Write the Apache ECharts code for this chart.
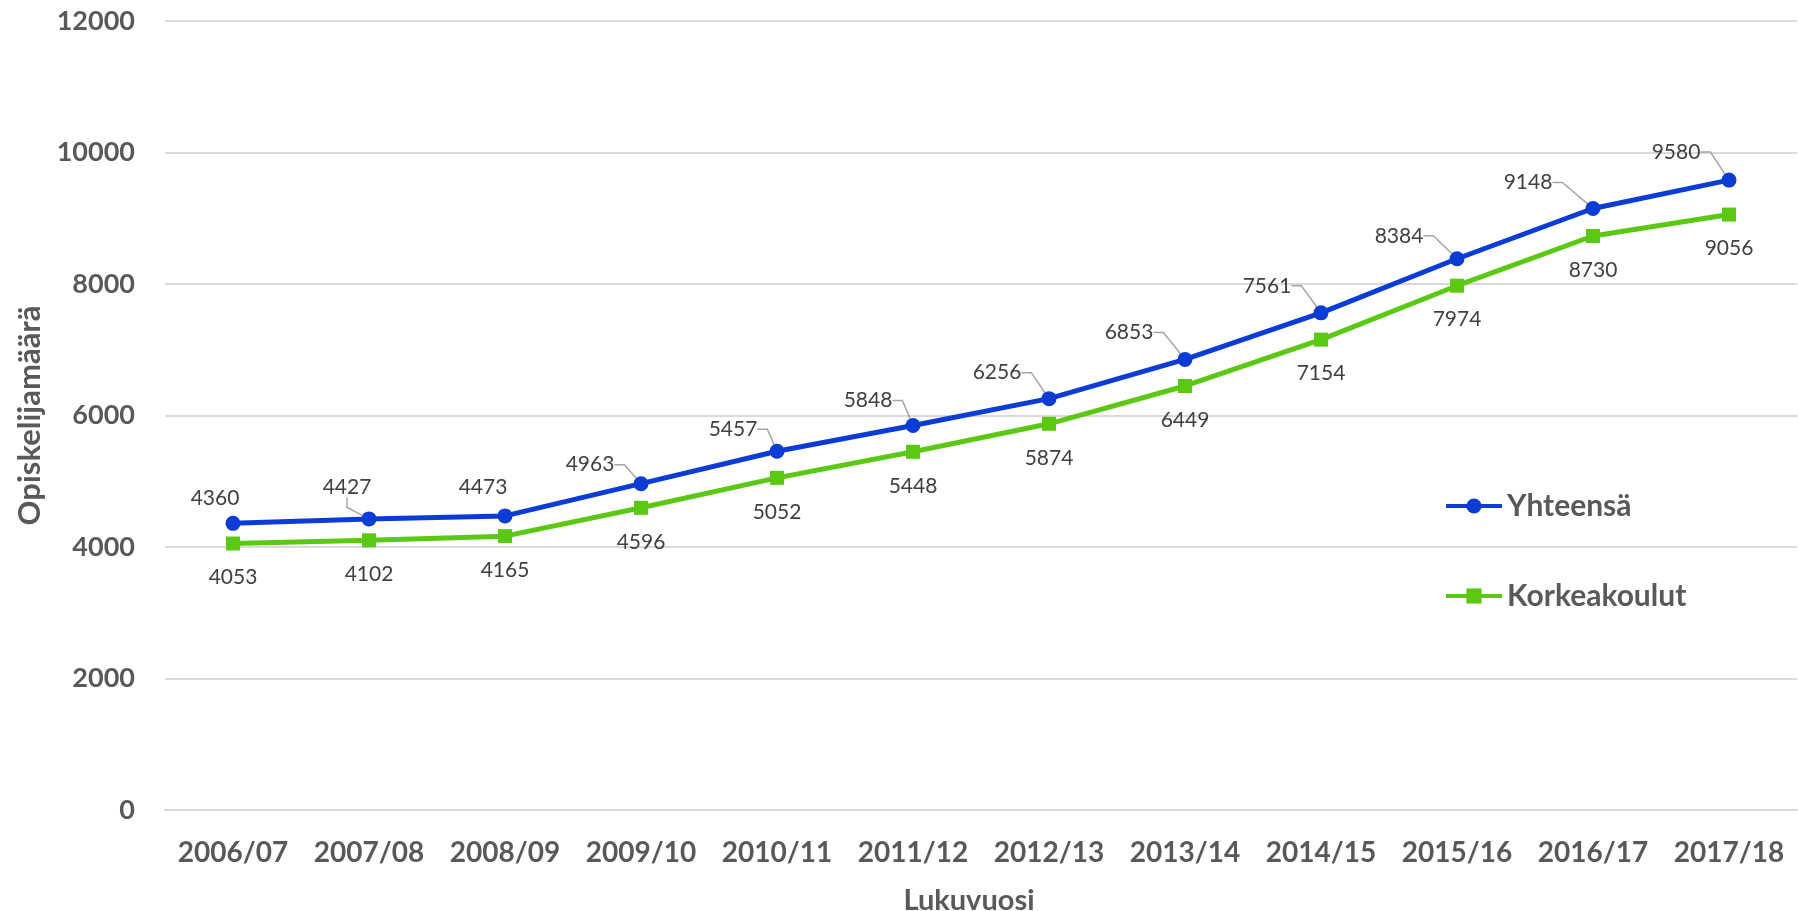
<!DOCTYPE html>
<html>
<head>
<meta charset="utf-8">
<script src="https://cdn.jsdelivr.net/npm/echarts@6/dist/echarts.min.js"></script>
<style>
html,body{margin:0;padding:0;background:#fff;}
#chart{width:1798px;height:911px;}
</style>
</head>
<body>
<div id="chart"></div>
<script>
// ---- data ----
const categories = ['2006/07','2007/08','2008/09','2009/10','2010/11','2011/12','2012/13','2013/14','2014/15','2015/16','2016/17','2017/18'];
const seriesNames = ['Yhteensä','Korkeakoulut'];
const yhteensa = [4360,4427,4473,4963,5457,5848,6256,6853,7561,8384,9148,9580];
const korkeakoulut = [4053,4102,4165,4596,5052,5448,5874,6449,7154,7974,8730,9056];
const yAxisMin = 0, yAxisMax = 12000, yAxisStep = 2000;
const xAxisTitle = 'Lukuvuosi';
const yAxisTitle = 'Opiskelijamäärä';

// ---- label layout (styling, not data) ----
const blueLabelOffsets = [[-18,-25],[-22,-32],[-22,-29],[-51,-19],[-44,-22],[-45,-25],[-52,-26],[-56,-27],[-54,-27],[-58,-23],[-65,-26],[-53,-28]];
const blueLeader = [false,true,false,true,true,true,true,true,true,true,true,true];
const greenLabelOffset = [0, 34];

const FONT = 'Lato';
const GRAY = '#595959';
const BLUE = '#0B3DD6';
const GREEN = '#5BC813';

const chart = echarts.init(document.getElementById('chart'), null, {renderer:'canvas'});

const blueData = yhteensa.map((v,i)=>({value:v, labelLine:{show: blueLeader[i]}}));

const option = {
  animation: false,
  backgroundColor: '#ffffff',
  grid: {left:165, right:1, top:21, bottom:101, containLabel:false, outerBoundsMode:'none'},
  legend: {
    orient: 'vertical',
    left: 1444,
    top: 491,
    padding: 0,
    itemGap: 60,
    itemWidth: 56,
    itemHeight: 19,
    lineStyle: {width: 4},
    textStyle: {fontFamily: FONT, fontWeight: 'bold', fontSize: 30, color: GRAY},
    data: seriesNames
  },
  xAxis: {
    type: 'category',
    data: categories,
    boundaryGap: true,
    axisLine: {show:true, lineStyle:{color:'#d9d9d9', width:2}},
    axisTick: {show:false},
    axisLabel: {fontFamily: FONT, fontWeight:'bold', fontSize:28, color: GRAY, margin: 29, interval: 0},
    name: xAxisTitle,
    nameLocation: 'middle',
    nameGap: 76,
    nameTextStyle: {fontFamily: FONT, fontWeight:'bold', fontSize:29, color: GRAY, padding:[0,24,0,0]}
  },
  yAxis: {
    type: 'value',
    min: yAxisMin, max: yAxisMax, interval: yAxisStep,
    axisLine: {show:false},
    axisTick: {show:false},
    splitLine: {show:true, lineStyle:{color:'#d9d9d9', width:2}},
    axisLabel: {fontFamily: FONT, fontWeight:'bold', fontSize:27, color: GRAY, margin: 30,
      formatter: function(v){ return String(v); }},
    name: yAxisTitle,
    nameLocation: 'middle',
    nameGap: 116,
    nameRotate: 90,
    nameTextStyle: {fontFamily: FONT, fontWeight:'bold', fontSize:31, color: GRAY}
  },
  series: [
    {
      name: seriesNames[0],
      type: 'line',
      data: blueData,
      symbol: 'circle',
      symbolSize: 15,
      color: BLUE,
      lineStyle: {width: 5, color: BLUE},
      itemStyle: {color: BLUE},
      z: 3,
      label: {show: true, position: 'top', fontFamily: FONT, fontSize: 21, color: '#404040'},
      labelLine: {show: true, length2: 10, lineStyle: {color: '#a6a6a6', width: 1.5}},
      labelLayout: function(p){
        const o = blueLabelOffsets[p.dataIndex];
        return {x: p.rect.x + p.rect.width/2 + o[0], y: p.rect.y + p.rect.height/2 + o[1], align:'center', verticalAlign:'middle'};
      }
    },
    {
      name: seriesNames[1],
      type: 'line',
      data: korkeakoulut,
      symbol: 'rect',
      symbolSize: 14,
      color: GREEN,
      lineStyle: {width: 5, color: GREEN},
      itemStyle: {color: GREEN},
      z: 2,
      label: {show: true, position: 'bottom', fontFamily: FONT, fontSize: 21, color: '#404040'},
      labelLine: {show: false},
      labelLayout: function(p){
        return {x: p.rect.x + p.rect.width/2 + greenLabelOffset[0], y: p.rect.y + p.rect.height/2 + greenLabelOffset[1], align:'center', verticalAlign:'middle'};
      }
    }
  ]
};
chart.setOption(option);
</script>
</body>
</html>
